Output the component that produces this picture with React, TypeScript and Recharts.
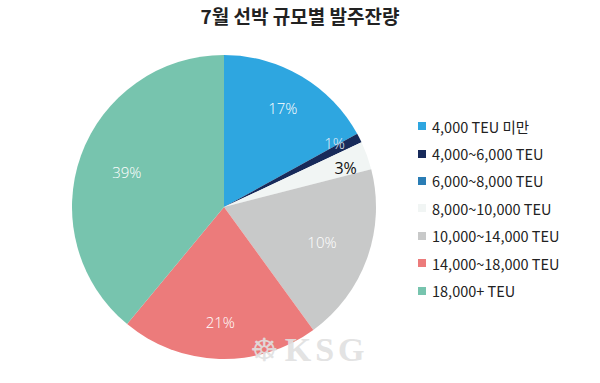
import { Legend, Pie, PieChart, Cell } from 'recharts';

const categories = [
  '4,000 TEU 미만',
  '4,000~6,000 TEU',
  '6,000~8,000 TEU',
  '8,000~10,000 TEU',
  '10,000~14,000 TEU',
  '14,000~18,000 TEU',
  '18,000+ TEU',
];
// slice sizes
const shares = [17, 1, 0, 3, 19, 21, 39];
// label texts as printed on the slices
const sliceLabels = ['17%', '1%', '', '3%', '10%', '21%', '39%'];
const colors = ['#2ea6e0', '#172a5a', '#2a7db5', '#f1f5f4', '#c8c9c9', '#ec7b7b', '#77c4ae'];
const labelColors = ['#fff', '#e3eef8', '#fff', '#111', '#fff', '#fff', '#fff'];

const data = categories.map((name, i) => ({ name, value: shares[i] }));

const RAD = Math.PI / 180;
// label placement: radius factor and angle nudge (deg) per slice
const labelRadius = [0.76, 0.84, 0.8, 0.84, 0.685, 0.76, 0.68];
const labelTurn = [0, 3, 0, -2, 0, 0, 0];

const renderLabel = (props: any) => {
  const { cx, cy, midAngle, outerRadius, index } = props;
  const text = sliceLabels[index];
  if (!text) return null;
  const r = outerRadius * labelRadius[index];
  const a = (midAngle + labelTurn[index]) * RAD;
  const x = cx + r * Math.cos(-a);
  const y = cy + r * Math.sin(-a);
  return (
    <text
      x={x}
      y={y}
      fill={labelColors[index]}
      textAnchor='middle'
      dominantBaseline='central'
      fontSize={index === 3 ? 16 : 15}
      fontWeight={index === 3 ? 400 : 300}
      fontFamily='"Open Sans", sans-serif'
    >
      {text}
    </text>
  );
};

const renderLegend = () => (
  <div style={{ fontFamily: '"Noto Sans CJK KR", "Noto Sans", sans-serif' }}>
    {categories.map((c, i) => (
      <div
        key={c}
        style={{ display: 'flex', alignItems: 'center', height: 27.4, fontSize: 14.5, color: '#222' }}
      >
        <span
          style={{ width: 8, height: 8, background: colors[i], marginRight: 6, display: 'inline-block' }}
        />
        {c}
      </div>
    ))}
  </div>
);

export default function App() {
  return (
    <div
      style={{
        position: 'absolute',
        left: 0,
        top: 0,
        width: 600,
        height: 383,
        background: '#fff',
      }}
    >
      <div
        style={{
          position: 'absolute',
          top: 2,
          width: 600,
          textAlign: 'center',
          fontFamily: '"Noto Sans CJK KR", sans-serif',
          fontWeight: 700,
          fontSize: 19,
          color: '#222',
        }}
      >
        7월 선박 규모별 발주잔량
      </div>
      <PieChart width={600} height={383}>
        <Pie
          data={data}
          dataKey='value'
          nameKey='name'
          cx={219}
          cy={202}
          outerRadius={152}
          startAngle={90}
          endAngle={-270}
          stroke='none'
          label={renderLabel}
          labelLine={false}
          isAnimationActive={false}
        >
          {data.map((d, i) => (
            <Cell key={d.name} fill={colors[i]} />
          ))}
        </Pie>
        <Legend
          layout='vertical'
          content={renderLegend}
          wrapperStyle={{ left: 418, top: 112.5, width: 180 }}
        />
      </PieChart>
      <div
        style={{
          position: 'absolute',
          left: 250,
          top: 331,
          display: 'flex',
          alignItems: 'center',
          color: '#e0e0e0',
          opacity: 0.9,
        }}
      >
        <span style={{ fontSize: 32, fontFamily: 'DejaVu Sans', marginRight: 6 }}>☸</span>
        <span
          style={{
            fontSize: 34,
            fontWeight: 700,
            fontFamily: '"Liberation Serif", serif',
            letterSpacing: 4,
          }}
        >
          KSG
        </span>
      </div>
    </div>
  );
}
